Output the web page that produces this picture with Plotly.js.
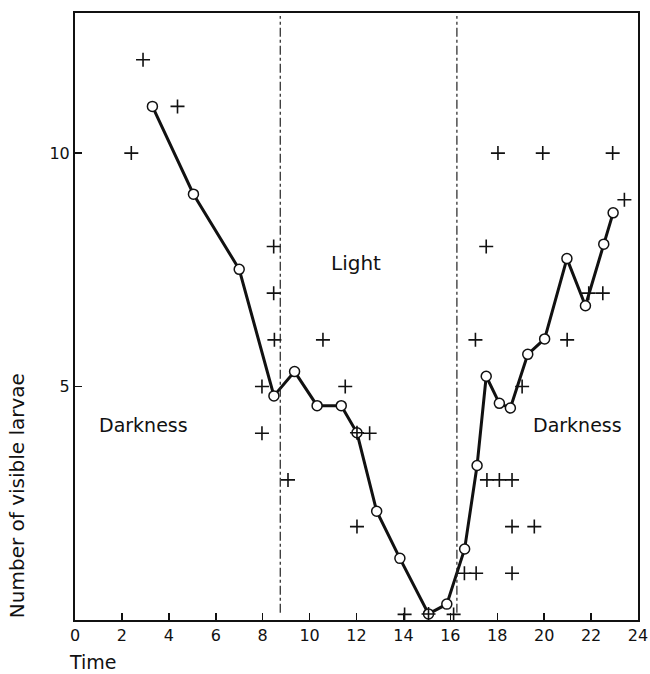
<!DOCTYPE html>
<html>
<head>
<meta charset="utf-8">
<script src="https://cdn.plot.ly/plotly-3.0.1.min.js"></script>
<style>html,body{margin:0;padding:0;background:#fff;}#chart{width:650px;height:674px;}</style>
</head>
<body>
<div id="chart"></div>
<script>
// Mean number of visible larvae (open circles, joined line)
const meanTime = [3.3, 5.05, 7.0, 8.48, 9.36, 10.32, 11.35, 12.02, 12.86, 13.85, 15.07, 15.85, 16.61, 17.14, 17.53, 18.09, 18.56, 19.3, 20.02, 20.97, 21.76, 22.54, 22.94];
const meanCount = [11.0, 9.12, 7.51, 4.8, 5.32, 4.59, 4.59, 4.01, 2.33, 1.32, 0.13, 0.34, 1.52, 3.31, 5.22, 4.64, 4.54, 5.69, 6.02, 7.74, 6.73, 8.05, 8.72];
// Individual counts (crosses)
const obsTime = [2.4, 2.9, 4.37, 8.47, 8.47, 8.5, 7.97, 7.97, 9.08, 10.57, 11.52, 12.02, 12.02, 12.56, 14.05, 15.07, 16.14, 16.6, 17.1, 18.63, 17.56, 18.09, 18.63, 18.63, 19.58, 19.06, 17.07, 20.98, 17.53, 18.03, 19.94, 22.92, 23.42, 21.9, 22.5];
const obsCount = [10, 12, 11, 8, 7, 6, 5, 4, 3, 6, 5, 2, 4.01, 4, 0.12, 0.13, 0.12, 1, 1, 1, 3, 3, 3, 2, 2, 5, 6, 6, 8, 10, 10, 10, 9, 7, 7];
// Light period boundaries
const lightStart = 8.75;
const lightEnd = 16.28;
const xTicks = [0, 2, 4, 6, 8, 10, 12, 14, 16, 18, 20, 22, 24];
const yTicks = [5, 10];

const font = {family: 'DejaVu Sans, sans-serif', color: '#111'};

const traces = [
  {
    x: meanTime, y: meanCount, type: 'scatter', mode: 'lines+markers',
    line: {color: '#111', width: 3},
    marker: {symbol: 'circle', size: 10, color: '#fff', line: {color: '#111', width: 1.5}},
    hoverinfo: 'skip', showlegend: false, cliponaxis: false
  },
  {
    x: obsTime, y: obsCount, type: 'scatter', mode: 'markers',
    marker: {symbol: 'cross-thin-open', size: 10, color: '#111', line: {color: '#111', width: 1.6}},
    hoverinfo: 'skip', showlegend: false, cliponaxis: false
  }
];

const layout = {
  width: 650, height: 674,
  margin: {l: 75, r: 12, t: 13, b: 54},
  paper_bgcolor: '#fff', plot_bgcolor: '#fff',
  font: Object.assign({size: 16}, font),
  xaxis: {
    range: [0, 24], tickvals: xTicks, ticktext: xTicks.map(String),
    ticks: 'inside', ticklen: 7, tickwidth: 1.5, tickcolor: '#111',
    showgrid: false, zeroline: false,
    showline: true, linecolor: '#111', linewidth: 2, mirror: true,
    tickfont: Object.assign({size: 16}, font)
  },
  yaxis: {
    range: [0, 13], tickvals: yTicks, ticktext: yTicks.map(String),
    ticks: 'inside', ticklen: 7, tickwidth: 1.5, tickcolor: '#111',
    showgrid: false, zeroline: false,
    showline: true, linecolor: '#111', linewidth: 2, mirror: true,
    tickfont: Object.assign({size: 16}, font)
  },
  shapes: [lightStart, lightEnd].map(v => ({
    type: 'line', xref: 'x', yref: 'paper', x0: v, x1: v, y0: 0.012, y1: 0.995,
    line: {color: '#222', width: 1.2, dash: 'dashdot'}
  })),
  annotations: [
    {text: 'Light', x: (lightStart + lightEnd) / 2 - 0.55, y: 7.65, xref: 'x', yref: 'y', showarrow: false, font: Object.assign({size: 20}, font)},
    {text: 'Darkness', x: 2.9, y: 4.17, xref: 'x', yref: 'y', showarrow: false, font: Object.assign({size: 19}, font)},
    {text: 'Darkness', x: 21.4, y: 4.17, xref: 'x', yref: 'y', showarrow: false, font: Object.assign({size: 19}, font)},
    {text: 'Time', x: 0, y: -0.069, xref: 'paper', yref: 'paper', xanchor: 'left', yanchor: 'middle', xshift: -8, showarrow: false, font: Object.assign({size: 19}, font)},
    {text: 'Number of visible larvae', x: -0.103, y: 0.204, xref: 'paper', yref: 'paper', textangle: -90, xanchor: 'center', yanchor: 'middle', showarrow: false, font: Object.assign({size: 20}, font)}
  ]
};

Plotly.newPlot('chart', traces, layout, {staticPlot: true, displayModeBar: false});
</script>
</body>
</html>
